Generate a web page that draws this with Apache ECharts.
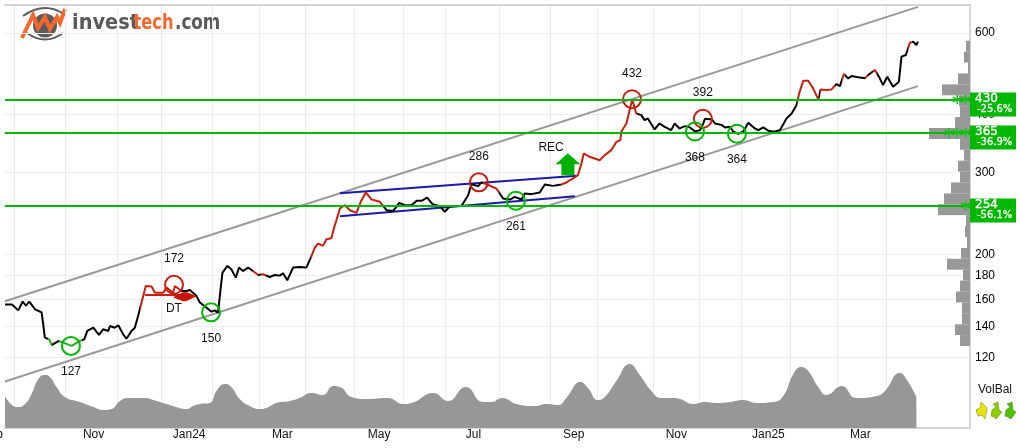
<!DOCTYPE html>
<html>
<head>
<meta charset="utf-8">
<style>html,body{margin:0;padding:0;background:#fff}#chart{width:1020px;height:448px}</style>
<script src="https://cdn.jsdelivr.net/npm/echarts@6/dist/echarts.min.js"></script>
</head>
<body>
<div id="chart"></div>
<script>
// Horizontal scale is counted in trading sessions, so months have uneven widths.
const monthStarts = [4,26,48,67,89,109,129,150,171,189,212,234,254,278,298,316,337,357,378];
const monthLabelAt = [38,79,119,160.5,201,244,288,327.5,367];
const monthLabels = ['Nov','Jan24','Mar','May','Jul','Sep','Nov','Jan25','Mar'];
const priceTicks = [120,140,160,180,200,300,400,600];

// Closing price as [session, price].
const prices = [
[0,156],[3,156],[5.7,151.5],[7.6,158.3],[9,155],[10.4,158.3],[12.9,152.3],[15.7,150],[16.4,141.4],[17.1,132.3],
[19,131.2],[20,127.5],[22.9,130.1],[25,129.1],[28.6,127],[32,130.1],[34,131.2],[35.3,136.8],[37.9,139],[40.3,134.1],
[42.1,137.9],[44.3,136.8],[45,140.2],[47.1,139],[48.6,140.7],[50.7,134.5],[52.1,131.6],[54.3,136.8],[55.7,139],[57.1,147.3],
[58.6,157.5],[60.4,171],[62.9,170.5],[64.3,165.4],[67.9,165.4],[69.3,169.6],[72.1,165.4],[72.9,171],[75.7,166.8],[77.9,166.8],
[79.3,167.6],[82.1,162.8],[83.6,157.5],[86.4,153.6],[88.6,150.5],[90,151.5],[91.4,149.8],[92.4,166.8],[93.3,182.7],[95.4,188.9],
[97.1,185.8],[99,178.2],[100.4,187.3],[102.1,184.2],[104.3,187.3],[106.4,184.2],[108.6,180.6],[110.7,181.2],[113.6,178.8],[115.7,180.6],
[117.9,180],[119.3,182.1],[121.1,175.9],[123.6,187.3],[126.4,187.9],[129.3,187.3],[131.4,197.8],[132.9,206.9],[134.3,211],[136.4,208.6],
[137.9,215.6],[140,216.7],[141.4,230.4],[142.1,236.2],[143.7,251.1],[145.8,255.3],[148,249],[150.8,245.8],[152.6,259.6],[154.8,271.9],
[157.3,262.6],[160.8,259.6],[163.7,249],[166.6,248.2],[169.1,258.3],[171.6,255.3],[174.4,255.3],[176.6,260.9],[178.7,260.9],[181.1,265.2],
[183.4,256.6],[186.6,254],[188.7,247],[190.8,254],[195.8,254.4],[198.7,268.3],[200.1,283.3],[203,280.6],[204.4,286],[206.6,283.3],
[210.8,277.4],[213.7,263.9],[216.6,262.6],[218.7,266.1],[221.6,262.6],[223,270.5],[225.8,269.7],[229.4,271.9],[231.6,282.9],[235.1,281],
[238.7,282.9],[240.8,285.8],[243.7,291.5],[245.8,296.4],[247.3,314],[248.3,330],[250.8,324.6],[253,321.9],[255.1,319.2],[257.3,327.3],
[260.1,335.5],[262.3,349.6],[264,352.6],[264.4,367.5],[266.6,383],[269.1,432],[270.8,402.6],[273,399.2],[274.4,389.4],[275.8,392.6],
[278.7,371.8],[280.8,383],[283,376.7],[285.8,370.5],[287.3,383],[289.4,373.7],[291.7,378],[293.9,375.6],[296,368],[298.2,370.6],
[299.6,383.1],[300.3,392],[303.2,390.8],[304.6,383.1],[307.5,380],[308.9,375.6],[311,376.8],[312.5,367.6],[314.6,364],[316.7,367.6],
[318.9,384.4],[321.7,373.7],[323.2,370.6],[325.3,375.6],[327.5,369.4],[329.6,367.6],[332.5,370.6],[335.3,392.8],[337.5,402.6],[339.6,419.6],
[340.7,444.6],[342.5,473.6],[344.6,473.6],[346.7,455.9],[348.9,431.6],[349.9,453.5],[352.5,452.1],[354.6,453.5],[356.7,465.8],[358.2,461.1],
[359.9,489.5],[361.7,479.1],[363.2,484.6],[366,481.5],[368.9,479.1],[370.3,487],[373.2,499.3],[375.3,479.1],[376.7,463.4],[378.5,483],
[381,459.6],[383.5,471.1],[384.6,533.5],[386.5,537.9],[388.2,571.9],[389.6,574.8],[391,565.3],[391.7,574.8]
];

// Sections of the price line coloured by signal: [from, to, colour].
const BLACK = '#000000', RED = '#c82010', GREEN = '#22b022';
const signalBands = [
[-1,18.5,BLACK],[18.5,20,GREEN],[20,23,BLACK],[23,33,GREEN],[33,58,BLACK],[58,75.7,RED],[75.7,106.4,BLACK],[106.4,108.6,RED],
[108.6,110,BLACK],[110,112,RED],[112,131.4,BLACK],[131.4,162,RED],[162,205,BLACK],[205,212,RED],[212,238.7,BLACK],[238.7,271,RED],
[271,339.6,BLACK],[339.6,349.2,RED],[349.2,349.8,BLACK],[349.8,356,RED],[356,359.2,BLACK],[359.2,360.3,RED],[360.3,368.9,BLACK],
[368.9,370.3,RED],[370.3,372.2,BLACK],[372.2,374,RED],[374,387.5,BLACK],[387.5,389,RED],[389,420,BLACK]
];

// Rising trend channel and the rectangle-like formation, as [session, price].
const channelUpper = [[0,158.5],[391.7,683]];
const channelLower = [[0,106.4],[391.7,461]];
const formationUpper = [[143.7,271],[245.4,295.3]];
const formationLower = [[143.7,241.7],[244.5,267]];
const dtLine = [[60,163.5],[79.5,163.5]];

// Tops and bottoms: [session, price].
const tops = [[72.5,172],[203.3,286],[269,432],[299.4,392]];
const bottoms = [[28.3,127],[88.4,150],[219.2,261],[296,368],[314,364]];

// Support levels: price, distance from last close, strength in stars.
const levelPrices = [430,365,254];
const levelChanges = ['-25.6%','-36.9%','-56.1%'];
const levelStars = [2,3,1];

// Volume traded at each price band.
const profileEdges = [577.4,547,518.2,490.9,465,440.5,417.3,395.4,374.5,354.8,336.1,318.4,301.6,285.8,270.7,256.5,243,230.2,218,206.5,195.7,185.4,175.6,166.4,157.6,149.3,141.4,134,126.9];
const profileVolume = [4,6,2,12,28,11,10,15,41,10,6,12,10,19,26,32,4,5,3,9,23,7,10,14,8,8,15,10];

// Volume balance curve as [session, level].
const volumeBalance = [
[0,32],[3,23],[5.7,21],[8.6,24],[11.4,34],[14.3,49],[17.1,53],[19.3,51],[22.1,41],[25.7,31],[32.1,26],[37.9,21],[42.1,18],[45.7,19],
[49.3,27],[52.9,30],[59.3,30],[65,27],[72.1,22],[77.9,19],[80.7,22],[83.6,24],[87.9,25],[90.7,37],[94.3,44],[97.1,41],[100.7,29],
[105,22],[109.3,19],[112.1,20],[116.4,25],[122.1,27],[126.4,30],[131.4,35],[136.4,33],[140.7,42],[143.7,41],[148.7,31],[155.1,29],
[164.4,30],[170.8,24],[174.4,25],[183.7,35],[190.1,27],[197.7,41],[205.1,26],[208.7,26],[213.3,30],[219.4,24],[227.3,22],[232.3,24],
[237.3,23],[240.8,30],[246.9,46],[250.1,40],[254.4,28],[257.3,31],[262.3,47],[268,64],[272.3,53],[277.3,37],[281.6,30],[286.6,30],
[289.6,29],[295.3,24],[300.3,26],[305.3,25],[311,26],[316.7,28],[322.5,25],[329.6,26],[333.9,32],[338.2,54],[341.7,61],[344.6,57],
[348.9,41],[352.5,33],[358.9,42],[365.3,30],[373.9,32],[377.5,37],[383.9,55],[386.7,49],[391,31]
];

const GRID_LINE = '#ececec', FRAME = '#c8c8c8', LABEL = '#111111';
const SANS = '"Liberation Sans", Arial, sans-serif';
const LEVEL_GREEN = '#00b800';
const LOGO_FONT = 'bold 20.5px "DejaVu Sans Condensed"';

const lineSeries = (name, data, color, width) => ({
  name, type: 'line', data, xAxisIndex: 0, yAxisIndex: 0, showSymbol: false, silent: true,
  lineStyle: { color, width }, z: 4
});

const pivotSeries = (name, data, color, place) => ({
  name, type: 'scatter', data, xAxisIndex: 0, yAxisIndex: 0, symbol: 'circle', symbolSize: 18, silent: true, z: 7,
  itemStyle: { color: 'rgba(0,0,0,0)', borderColor: color, borderWidth: 2, opacity: 1 },
  label: { show: true, position: place, distance: 10, color: LABEL, fontFamily: SANS, fontSize: 12,
    formatter: p => String(p.value[1]) }
});

const logoWord = (text, x, fill, scaleX) => ({
  type: 'text', x, y: 13, scaleX, style: { x: 0, y: 0, text, fill, font: LOGO_FONT }
});

const option = {
  animation: false,
  backgroundColor: '#ffffff',
  textStyle: { fontFamily: SANS },
  grid: [
    { left: 5, top: 5, width: 965, height: 423 },
    { left: 5, top: 340, width: 965, height: 88 }
  ],
  visualMap: [{
    show: false, type: 'piecewise', dimension: 0, seriesIndex: 0,
    pieces: signalBands.map(b => ({ gte: b[0], lt: b[1], color: b[2] }))
  }],
  xAxis: [
    { type: 'value', gridIndex: 0, position: 'top', min: 0, max: 414,
      axisLine: { show: true, onZero: false, lineStyle: { color: FRAME, width: 1.5 } },
      axisTick: { show: false, customValues: monthStarts },
      axisLabel: { show: false, customValues: monthStarts },
      splitLine: { show: true, customValues: monthStarts, lineStyle: { color: GRID_LINE, width: 1 } } },
    // One unit is one pixel here, measured leftwards from the right-hand frame.
    { type: 'value', gridIndex: 0, inverse: true, min: 0, max: 965, show: false },
    { type: 'value', gridIndex: 1, position: 'bottom', min: 0, max: 414,
      axisLine: { show: true, onZero: false, lineStyle: { color: FRAME, width: 1.5 } },
      axisTick: { show: false, customValues: monthLabelAt },
      splitLine: { show: false },
      axisLabel: { show: true, customValues: monthLabelAt, margin: 1, color: LABEL, fontSize: 12, fontFamily: SANS, hideOverlap: false,
        showMinLabel: true, showMaxLabel: true,
        formatter: v => monthLabels[monthLabelAt.indexOf(v)] || '' } }
  ],
  yAxis: [
    { type: 'log', logBase: 10, gridIndex: 0, position: 'right', min: 84.5, max: 689.5,
      axisLine: { show: true, onZero: false, lineStyle: { color: FRAME, width: 1.5 } },
      axisTick: { show: false, customValues: priceTicks },
      axisLabel: { show: true, customValues: priceTicks, margin: 5, color: '#000000', fontSize: 12, fontFamily: SANS },
      splitLine: { show: true, customValues: priceTicks, lineStyle: { color: GRID_LINE, width: 1 } },
      minorTick: { show: false }, minorSplitLine: { show: false } },
    { type: 'value', gridIndex: 1, min: 0, max: 88, show: false }
  ],
  series: [
    // Its colour comes from the visual map, so the line style names only the width.
    { name: 'Price', type: 'line', data: prices, xAxisIndex: 0, yAxisIndex: 0, showSymbol: false, silent: true, z: 6,
      lineStyle: { width: 2 } },
    lineSeries('Channel upper', channelUpper, '#999999', 2),
    lineSeries('Channel lower', channelLower, '#999999', 2),
    Object.assign(lineSeries('Formation upper', formationUpper, '#1a1aa6', 2), { z: 5 }),
    Object.assign(lineSeries('Formation lower', formationLower, '#1a1aa6', 2), { z: 5 }),
    Object.assign(lineSeries('DT level', dtLine, RED, 2), { z: 6 }),
    pivotSeries('Tops', tops, RED, 'top'),
    pivotSeries('Bottoms', bottoms, '#00b800', 'bottom'),
    { name: 'Volume balance', type: 'line', data: volumeBalance, xAxisIndex: 2, yAxisIndex: 1, smooth: 0.5, showSymbol: false, silent: true, z: 3,
      lineStyle: { width: 0 }, areaStyle: { color: '#979797', opacity: 1 } },
    { name: 'Volume profile', type: 'custom', xAxisIndex: 1, yAxisIndex: 0, silent: true, z: 3, clip: false,
      data: profileVolume.map((v, i) => [v, profileEdges[i + 1], profileEdges[i]]),
      encode: { x: 0, y: [1, 2] },
      renderItem: (params, api) => {
        const a = api.coord([api.value(0), api.value(2)]);
        const b = api.coord([0, api.value(1)]);
        return { type: 'rect', shape: { x: a[0], y: a[1], width: b[0] - a[0], height: b[1] - a[1] },
          style: { fill: '#989898' } };
      } },
    { name: 'Support levels', type: 'custom', xAxisIndex: 0, yAxisIndex: 0, silent: true, z: 8, clip: false,
      data: levelPrices.map((p, i) => [0, p, i]),
      encode: { x: 0, y: 1 },
      renderItem: (params, api) => {
        const i = api.value(2);
        const y = Math.round(api.coord([0, api.value(1)])[1]);
        const left = params.coordSys.x, right = left + params.coordSys.width;
        const stars = [];
        for (let k = 0; k < levelStars[i]; k++) {
          stars.push({ type: 'text', style: { x: right - 4.5 - k * 8.3, y: y + 4, text: '*', align: 'center', verticalAlign: 'middle',
            fill: '#18c018', font: 'bold 20px "DejaVu Sans"' } });
        }
        return { type: 'group', children: [
          { type: 'line', shape: { x1: left, y1: y, x2: right, y2: y }, style: { stroke: LEVEL_GREEN, lineWidth: 2 } },
          ...stars,
          { type: 'rect', shape: { x: right, y: y - 7.5, width: 46, height: 24 }, style: { fill: LEVEL_GREEN } },
          { type: 'text', style: { x: right + 5, y: y - 1, text: String(api.value(1)), align: 'left', verticalAlign: 'middle',
              fill: '#ffffff', stroke: '#ffffff', lineWidth: 0.4, font: '12px "DejaVu Sans"' } },
          { type: 'text', style: { x: right + 7, y: y + 9, text: levelChanges[i], align: 'left', verticalAlign: 'middle',
              fill: '#ffffff', stroke: '#ffffff', lineWidth: 0.3, font: '10px "DejaVu Sans"' } }
        ] };
      } },
    { name: 'Buy signal', type: 'scatter', xAxisIndex: 0, yAxisIndex: 0, silent: true, z: 7,
      data: [[241.5, 313]],
      symbol: 'path://M12.5 0L25 11H19V22H6V11H0Z', symbolSize: [25, 22],
      itemStyle: { color: '#00b000', opacity: 1 },
      label: { show: true, formatter: 'REC', color: LABEL, fontSize: 12, fontFamily: SANS, position: [-17, -11] } },
    { name: 'Sell signal', type: 'scatter', xAxisIndex: 0, yAxisIndex: 0, silent: true, z: 7,
      data: [[77.2, 162]],
      symbol: 'path://M0 5L10 0H14L24 4L13 9H10Z', symbolSize: [24, 9],
      itemStyle: { color: '#c81400', opacity: 1 },
      label: { show: true, formatter: 'DT', color: LABEL, fontSize: 12, fontFamily: SANS, position: [-7, 10] } }
  ],
  graphic: [
    { type: 'text', style: { x: 3, y: 429, text: 'Sep', align: 'right', fill: LABEL, font: '12px ' + SANS } },
    { type: 'text', style: { x: 978, y: 384, text: 'VolBal', fill: LABEL, font: '12px ' + SANS } },
    // Volume balance indicator arrows.
    { type: 'polygon', shape: { points: [[981,402],[987,408],[986,414],[985,419],[982,415],[978,416],[976,410],[980,408]] },
      style: { fill: '#e6e600', stroke: '#8a8a30', lineWidth: 0.6 } },
    { type: 'polygon', shape: { points: [[998,402],[999,410],[1002,412],[996,419],[994,417],[991,416],[992,410],[996,407],[993,404]] },
      style: { fill: '#8fcf00', stroke: '#6c8a30', lineWidth: 0.6 } },
    { type: 'polygon', shape: { points: [[1012,402],[1013,410],[1016,412],[1011,419],[1008,417],[1005,416],[1006,410],[1010,407],[1007,404]] },
      style: { fill: '#50c000', stroke: '#4c8a30', lineWidth: 0.6 } },
    // Logo: eye outline, pupil and zigzag.
    { type: 'circle', shape: { cx: 45, cy: 25.5, r: 12 }, style: { fill: '#5c5c5c' } },
    { type: 'bezierCurve', shape: { x1: 23, y1: 16, cpx1: 44, cpy1: 1, x2: 64, y2: 14 }, style: { fill: null, stroke: '#5c5c5c', lineWidth: 2 } },
    { type: 'bezierCurve', shape: { x1: 27, y1: 33, cpx1: 45, cpy1: 46, x2: 63, y2: 33 }, style: { fill: null, stroke: '#5c5c5c', lineWidth: 2 } },
    { type: 'polyline', shape: { points: [[22,38],[33,15],[38,28],[45,17],[50,29],[57,17],[60,23],[65,9]] },
      style: { fill: null, stroke: '#f4672d', lineWidth: 4 } },
    logoWord('invest', 72, '#5a5a5a', 1.05),
    logoWord('tech', 133.5, '#f4672d', 0.88),
    logoWord('.com', 175, '#5a5a5a', 0.91)
  ]
};

echarts.init(document.getElementById('chart'), null, { renderer: 'canvas' }).setOption(option);
</script>
</body>
</html>
